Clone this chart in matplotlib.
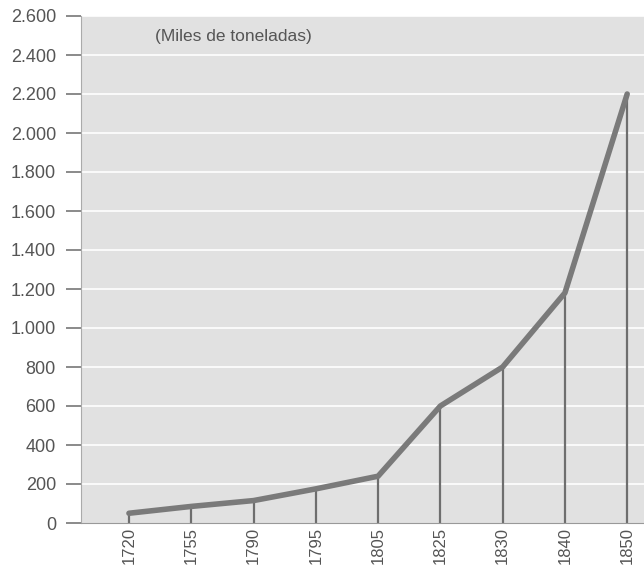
import matplotlib
matplotlib.use("Agg")
import matplotlib.pyplot as plt
import numpy as np

years = ["1720", "1755", "1790", "1795", "1805", "1825", "1830", "1840", "1850"]
values = [50, 85, 115, 175, 240, 600, 800, 1180, 2200]
y_ticks = list(range(0, 2601, 200))
y_labels = ["{:,}".format(v).replace(",", ".") for v in y_ticks]

plt.rcParams['font.family'] = ['Liberation Sans', 'DejaVu Sans']

fig = plt.figure(figsize=(6.44, 5.69), dpi=100)
ax = fig.add_axes([81 / 644, 1 - 523 / 569, (644 - 81) / 644, (523 - 16) / 569])
ax.set_facecolor("#e1e1e1")

x = np.arange(len(years))
ax.set_xlim(-0.77, len(years) - 1 + 0.27)
ax.set_ylim(0, 2600)

# white horizontal grid
for v in y_ticks[1:]:
    ax.axhline(v, color="white", lw=1.2, zorder=1)

# drop lines + main line
ax.vlines(x, 0, values, color="#6e6e6e", lw=1.6, zorder=2)
ax.plot(x, values, color="#7a7a7a", lw=4, solid_capstyle="round",
        solid_joinstyle="round", zorder=3)

ax.set_yticks(y_ticks)
ax.set_yticklabels(y_labels)
ax.set_xticks(x)
ax.set_xticklabels(years, rotation=90)
ax.tick_params(axis="y", length=11, width=1.2, color="#777777", pad=7,
               labelsize=13, labelcolor="#555555")
ax.tick_params(axis="x", length=0, pad=3, labelsize=12, labelcolor="#555555")

for s in ["top", "right"]:
    ax.spines[s].set_visible(False)
ax.spines["left"].set_color("#aaaaaa")
ax.spines["left"].set_linestyle((0, (1, 1)))
ax.spines["bottom"].set_color("#999999")
ax.spines["bottom"].set_linestyle((0, (2, 1)))

ax.text((155 - 81) / 563, 1 - (36 - 16) / 507, "(Miles de toneladas)",
        transform=ax.transAxes, fontsize=12.5, color="#555555",
        va="center", ha="left")

fig.savefig("out.png", dpi=100)
